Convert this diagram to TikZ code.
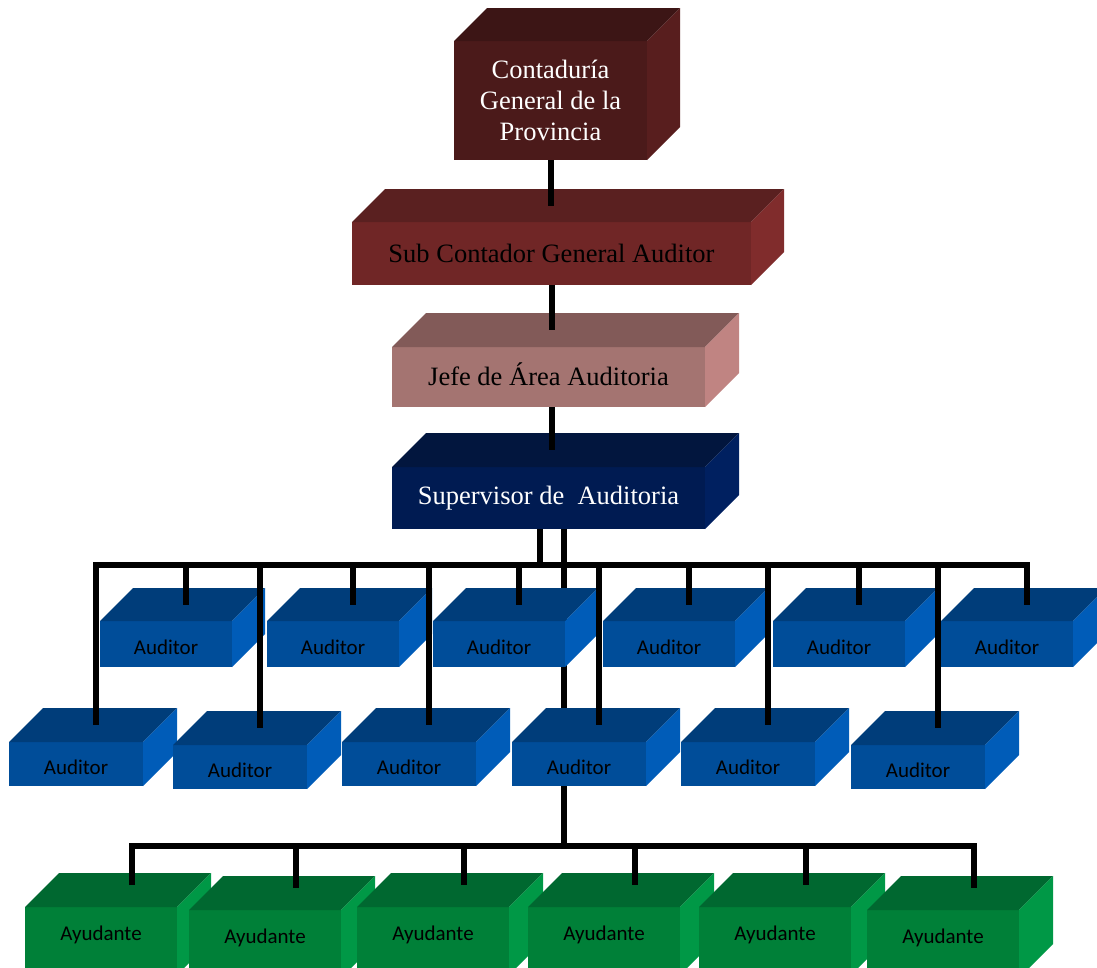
\documentclass[tikz,border=0pt]{standalone}
\usepackage{fontspec}
\setmainfont{Liberation Serif}
\newfontfamily\calibri{Carlito}
\usetikzlibrary{calc}
\definecolor{contaF}{RGB}{75,26,26}
\definecolor{contaT}{RGB}{60,21,21}
\definecolor{contaS}{RGB}{88,30,30}
\definecolor{subF}{RGB}{112,38,38}
\definecolor{subT}{RGB}{90,32,32}
\definecolor{subS}{RGB}{128,44,44}
\definecolor{jefeF}{RGB}{164,116,113}
\definecolor{jefeT}{RGB}{130,90,88}
\definecolor{jefeS}{RGB}{192,132,130}
\definecolor{supF}{RGB}{0,27,82}
\definecolor{supT}{RGB}{2,22,62}
\definecolor{supS}{RGB}{0,32,96}
\definecolor{audF}{RGB}{0,77,153}
\definecolor{audT}{RGB}{0,61,122}
\definecolor{audS}{RGB}{0,92,184}
\definecolor{ayuF}{RGB}{0,128,56}
\definecolor{ayuT}{RGB}{0,104,48}
\definecolor{ayuS}{RGB}{0,152,70}
% box: name, colour, depth, front corner, options, text
\newcommand{\caja}[6]{%
  \node[fill=#2F,anchor=north west,inner sep=0pt,outer sep=0pt,align=center,#5] (#1) at (#4) {#6};
  \fill[#2T] (#1.north west) -- ++(#3,-#3) -- ($(#1.north east)+(#3,-#3)$) -- (#1.north east) -- cycle;
  \fill[#2S] (#1.north east) -- ++(#3,-#3) -- ($(#1.south east)+(#3,-#3)$) -- (#1.south east) -- cycle;
  \coordinate (#1-top) at ($(#1.north)+(0.6*#3,-#3/2)$);
}

\begin{document}
\begin{tikzpicture}[x=1pt,y=-1pt,
  linea/.style={line width=6pt},
  titulo/.style={font=\fontsize{26.5}{31}\selectfont},
  puesto/.style={font=\calibri\fontsize{21}{25}\selectfont}]
  \useasboundingbox (0,0) rectangle (1097,967);
  \clip (0,0) rectangle (1097,967);
  % upper boxes
  \caja{conta}{conta}{33}{454,41}{titulo,text=white,minimum width=193pt,minimum height=119pt}{Contaduría\\General de la\\Provincia}
  \caja{sub}{sub}{33}{352,222}{titulo,minimum width=399pt,minimum height=63pt}{Sub Contador General Auditor}
  \caja{jefe}{jefe}{34}{392,347}{titulo,text height=17pt,minimum width=313pt,minimum height=60pt}{Jefe de Área Auditoria}
  \caja{sup}{sup}{34}{392,467}{titulo,text=white,minimum width=313pt,minimum height=62pt}{Supervisor de\ \ Auditoria}
  \coordinate (bus) at (540,565);
  \coordinate (bus2) at (564,846);
  % line behind the auditors
  \draw[linea] (bus2 |- sup.south) -- (bus2);
  % auditors
  \foreach \px/\py [count=\i] in {100/621,267/621,433/621,603/621,773/621,941/621}{
    \caja{a\i}{aud}{33}{\px,\py}{puesto,text height=21pt,minimum width=132pt,minimum height=46pt}{Auditor}
  }
  \foreach \px/\py [count=\i] in {9/742,173/745,342/742,512/742,681/742,851/745}{
    \caja{b\i}{aud}{34}{\px,\py}{puesto,text height=21pt,minimum width=134pt,minimum height=44pt}{Auditor}
  }
  % ayudantes
  \foreach \px/\py [count=\i] in {25/907,189/910,357/907,528/907,699/907,867/910}{
    \caja{y\i}{ayu}{34}{\px,\py}{puesto,text depth=16pt,minimum width=152pt,minimum height=68pt}{Ayudante}
  }
  % connectors
  \draw[linea] (conta.south) -- (conta.south |- sub-top);
  \draw[linea] (sub.south) -- (sub.south |- jefe-top);
  \draw[linea] (sub.south |- jefe.south) -- (sub.south |- sup-top);
  \draw[linea] (bus |- sup.south) -- (bus);
  \draw[linea] (b1-top) |- (bus) -| (a6-top);
  \foreach \i in {1,...,5} \draw[linea] (a\i-top |- bus) -- (a\i-top);
  \foreach \i in {2,...,6} \draw[linea] (b\i-top |- bus) -- (b\i-top);
  \foreach \i in {1,...,6} \coordinate (yd\i) at ($(y\i-top)+(11,-5)$);
  \draw[linea] (yd1) |- (bus2) -| (yd6);
  \foreach \i in {2,...,5} \draw[linea] (yd\i |- bus2) -- (yd\i);
\end{tikzpicture}
\end{document}
